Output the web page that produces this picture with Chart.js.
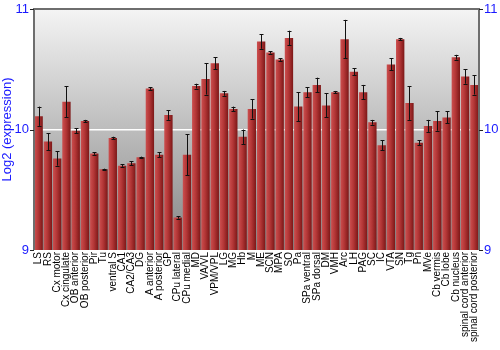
<!DOCTYPE html>
<html>
<head>
<meta charset="utf-8">
<script src="https://cdn.jsdelivr.net/npm/chart.js@4"></script>
<style>
  html, body { margin: 0; padding: 0; background: #fff; }
  #wrap { width: 500px; height: 350px; }
</style>
</head>
<body>
<div id="wrap"><canvas id="chart" width="500" height="350"></canvas></div>
<script>
// brain regions (x axis)
const regions = [
  'LS', 'RS', 'Cx motor', 'Cx cingulate', 'OB anterior', 'OB posterior', 'Pir', 'Tu',
  'ventral S', 'CA1', 'CA2/CA3', 'DG', 'A anterior', 'A posterior', 'GP', 'CPu lateral',
  'CPu medial', 'MD', 'VA/VL', 'VPM/VPL', 'LG', 'MG', 'Hb', 'M', 'ME', 'SCN', 'MPA', 'SO',
  'Pa', 'SPa ventral', 'SPa dorsal', 'DM', 'VMH', 'Arc', 'LH', 'PAG', 'SC', 'IC', 'VTA',
  'SN', 'Tg', 'Pn', 'MVe', 'Cb vermis', 'Cb lobe', 'Cb nucleus', 'spinal cord anterior',
  'spinal cord posterior'
];

// mean log2 expression per region
const expression = [
  10.11, 9.90, 9.76, 10.23, 9.99, 10.07, 9.80, 9.67,
  9.93, 9.70, 9.72, 9.77, 10.34, 9.79, 10.12, 9.27,
  9.79, 10.36, 10.42, 10.55, 10.30, 10.17, 9.94, 10.17, 10.73, 10.64, 10.58, 10.76,
  10.19, 10.31, 10.37, 10.20, 10.31, 10.75, 10.48, 10.31, 10.06, 9.87, 10.54,
  10.75, 10.22, 9.89, 10.03, 10.07, 10.10, 10.60, 10.44,
  10.37
];

// standard error (half height of the error bar)
const stdErr = [
  0.08, 0.07, 0.06, 0.13, 0.02, 0.01, 0.01, 0.005,
  0.01, 0.01, 0.015, 0.005, 0.01, 0.02, 0.04, 0.01,
  0.17, 0.02, 0.13, 0.05, 0.02, 0.02, 0.06, 0.08, 0.06, 0.01, 0.01, 0.06,
  0.12, 0.04, 0.06, 0.10, 0.01, 0.16, 0.03, 0.06, 0.02, 0.04, 0.05,
  0.01, 0.14, 0.02, 0.05, 0.08, 0.05, 0.02, 0.06,
  0.08
];

const yTicks = [9, 10, 11];

const blue = '#1a1aff';
const borderGrey = '#6e6e6e';
const font = 'Liberation Sans, Arial, sans-serif';

// grey gradient behind the plot + frame lines
const backdrop = {
  id: 'backdrop',
  beforeDraw(chart) {
    const { ctx, chartArea: a } = chart;
    if (!a) return;
    const g = ctx.createLinearGradient(0, a.top, 0, a.bottom);
    g.addColorStop(0, '#f4f4f4');
    g.addColorStop(1, '#858585');
    ctx.save();
    ctx.fillStyle = g;
    ctx.fillRect(a.left, a.top, a.right - a.left, a.bottom - a.top);
    ctx.restore();
  },
  afterDraw(chart) {
    const { ctx, chartArea: a } = chart;
    ctx.save();
    ctx.strokeStyle = borderGrey;
    ctx.lineWidth = 2;
    ctx.beginPath();
    ctx.moveTo(a.left, a.bottom);
    ctx.lineTo(a.left, a.top);
    ctx.lineTo(a.right, a.top);
    ctx.lineTo(a.right, a.bottom);
    ctx.stroke();
    // small tick marks
    ctx.lineWidth = 1;
    ctx.strokeStyle = '#222';
    const y = chart.scales.y;
    yTicks.forEach(v => {
      const py = Math.round(y.getPixelForValue(v)) + 0.5;
      ctx.beginPath();
      ctx.moveTo(a.left - 4, py); ctx.lineTo(a.left, py);
      ctx.moveTo(a.right, py); ctx.lineTo(a.right + 4, py);
      ctx.stroke();
    });
    ctx.restore();
  }
};

// error bars drawn through the scales
const errorBars = {
  id: 'errorBars',
  afterDatasetsDraw(chart) {
    const { ctx } = chart;
    const y = chart.scales.y;
    const meta = chart.getDatasetMeta(0);
    ctx.save();
    ctx.strokeStyle = '#111';
    ctx.lineWidth = 1;
    meta.data.forEach((bar, i) => {
      const x = Math.round(bar.x) + 0.5;
      const hi = y.getPixelForValue(expression[i] + stdErr[i]);
      const lo = y.getPixelForValue(expression[i] - stdErr[i]);
      ctx.beginPath();
      ctx.moveTo(x, hi); ctx.lineTo(x, lo);
      ctx.moveTo(x - 2, Math.round(hi) + 0.5); ctx.lineTo(x + 2, Math.round(hi) + 0.5);
      ctx.moveTo(x - 2, Math.round(lo) + 0.5); ctx.lineTo(x + 2, Math.round(lo) + 0.5);
      ctx.stroke();
    });
    ctx.restore();
  }
};

function barFill(context) {
  const chart = context.chart;
  const xs = chart.scales.x;
  if (!chart.chartArea || !xs) return '#a83232';
  const cx = xs.getPixelForValue(context.dataIndex);
  const w = (chart.chartArea.right - chart.chartArea.left) / regions.length * 0.9;
  const g = chart.ctx.createLinearGradient(cx - w / 2, 0, cx + w / 2, 0);
  g.addColorStop(0, '#cc4f4f');
  g.addColorStop(0.45, '#b33636');
  g.addColorStop(1, '#7c1717');
  return g;
}

function noPad(scale) {
  scale.paddingLeft = 0;
  scale.paddingRight = 0;
  scale.paddingTop = 0;
  scale.paddingBottom = 0;
}

new Chart(document.getElementById('chart'), {
  type: 'bar',
  data: {
    labels: regions,
    datasets: [{
      data: expression,
      backgroundColor: barFill,
      borderWidth: 0,
      categoryPercentage: 1,
      barPercentage: 0.9
    }]
  },
  options: {
    responsive: false,
    animation: false,
    layout: { padding: { top: 9, right: 0, bottom: 0, left: 0 } },
    plugins: { legend: { display: false }, tooltip: { enabled: false } },
    scales: {
      x: {
        grid: { display: false, drawTicks: false },
        border: { display: false },
        ticks: {
          autoSkip: false,
          minRotation: 90,
          maxRotation: 90,
          color: '#000',
          padding: 2,
          font: { family: font, size: 10 }
        },
        afterFit(scale) { scale.height = 100; noPad(scale); }
      },
      y: {
        position: 'left',
        min: 9,
        max: 11,
        afterBuildTicks(scale) { scale.ticks = yTicks.map(v => ({ value: v })); },
        grid: {
          drawTicks: false,
          color: ctx => (ctx.tick && ctx.tick.value === 10 ? '#ffffff' : 'rgba(0,0,0,0)'),
          lineWidth: 1.5
        },
        border: { display: false },
        ticks: {
          color: blue,
          padding: 5,
          font: { family: font, size: 13 }
        },
        title: {
          display: true,
          text: 'Log2 (expression)',
          color: blue,
          padding: { top: 0, bottom: 0 },
          font: { family: font, size: 13 }
        },
        afterFit(scale) { scale.width = 34; noPad(scale); }
      },
      y2: {
        position: 'right',
        min: 9,
        max: 11,
        afterBuildTicks(scale) { scale.ticks = yTicks.map(v => ({ value: v })); },
        grid: { display: false, drawTicks: false },
        border: { display: false },
        ticks: {
          color: blue,
          padding: 5,
          font: { family: font, size: 13 }
        },
        afterFit(scale) { scale.width = 21; noPad(scale); }
      }
    }
  },
  plugins: [backdrop, errorBars]
});
</script>
</body>
</html>
